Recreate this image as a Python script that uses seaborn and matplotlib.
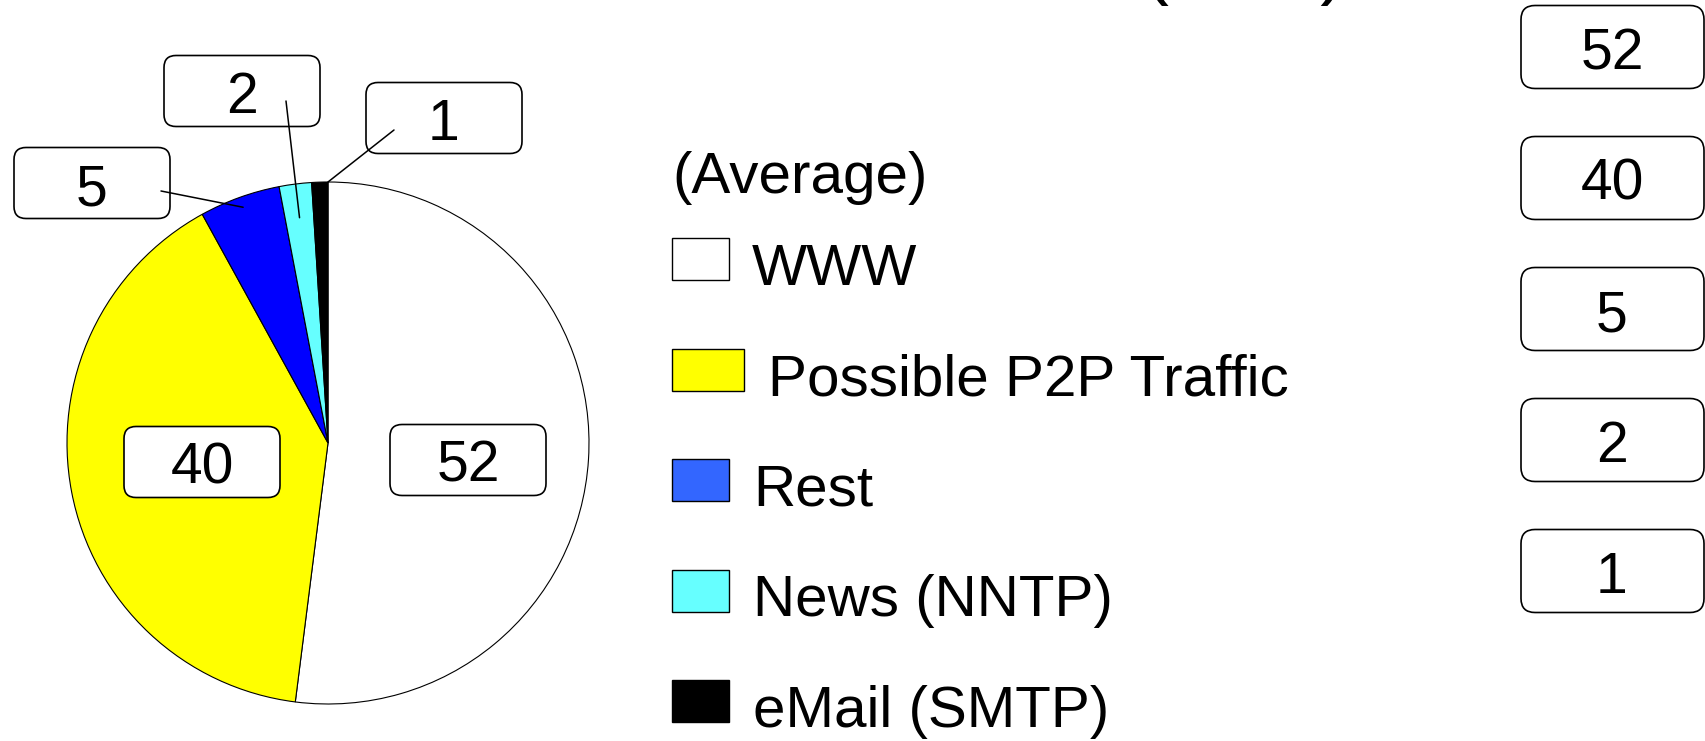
import matplotlib
matplotlib.use("Agg")
import matplotlib.pyplot as plt
from matplotlib.patches import FancyBboxPatch, Rectangle
import numpy as np
import seaborn as sns

# ---- data ----
categories = ["WWW", "Possible P2P Traffic", "Rest", "News (NNTP)", "eMail (SMTP)"]
shares = [52, 40, 5, 2, 1]
pie_colors = ["#FFFFFF", "#FFFF00", "#0000FF", "#66FFFF", "#000000"]
legend_colors = ["#FFFFFF", "#FFFF00", "#3366FF", "#66FFFF", "#000000"]
legend_title = "(Average)"
title_text = "(in %)"

sns.set_style("white")
plt.rcParams["font.family"] = ["Liberation Sans", "DejaVu Sans"]
plt.rcParams["text.color"] = "black"

W, H = 1706, 741
fig = plt.figure(figsize=(W / 100, H / 100), dpi=100)
# one axes over the whole figure, units are pixels, y pointing up
ax = fig.add_axes([0, 0, 1, 1])


def up(y):
    # convert a "from the top" pixel position to axes units
    return H - y


# ---- pie ----
cx, cy, R = 328, 443, 261
wedges, _ = ax.pie(shares, colors=pie_colors, startangle=90, counterclock=False,
                   radius=R, center=(cx, up(cy)),
                   wedgeprops=dict(edgecolor="black", linewidth=0.8))
ax.set_xlim(0, W)
ax.set_ylim(0, H)
ax.set_aspect("auto")
ax.axis("off")

# value boxes on the pie (layout only)
box_w, box_h = 156, 71
label_xy = [(468, 460), (202, 462), (92, 183), (242, 91), (444, 118)]
leader_from = [None, None, (161, 191), (286, 101), (394, 130)]
leader_r = [None, None, 0.96, 0.87, 1.0]
leader_t = [None, None, 0.5, 0.5, 0.0]   # where along the wedge the line ends

for w, val, (lx, ly), start, r, t in zip(wedges, shares, label_xy, leader_from,
                                         leader_r, leader_t):
    ax.add_patch(FancyBboxPatch((lx - box_w / 2, up(ly) - box_h / 2), box_w, box_h,
                                boxstyle="round,pad=0,rounding_size=12",
                                fc="white", ec="black", lw=1.2, zorder=3))
    ax.text(lx, up(ly) - 22, str(val), ha="center", va="baseline",
            fontsize=41, zorder=4)
    if start is not None:
        ang = np.deg2rad(w.theta1 + t * (w.theta2 - w.theta1))
        ex = cx + r * R * np.cos(ang)
        ey = up(cy) + r * R * np.sin(ang)
        ax.plot([start[0], ex], [up(start[1]), ey], color="black", lw=1.1, zorder=5)

# ---- legend ----
ax.text(672, up(193), legend_title, fontsize=42, va="baseline", ha="left")
swatch_w = [57, 72, 57, 57, 57]
text_x = [752, 768, 753, 753, 753]
for i, (name, col) in enumerate(zip(categories, legend_colors)):
    base = 285 + 110.5 * i
    ax.add_patch(Rectangle((672, up(base - 5)), swatch_w[i], 42,
                           fc=col, ec="black", lw=1.0))
    ax.text(text_x[i], up(base), name, fontsize=42, va="baseline", ha="left")

# ---- value column on the right ----
for i, val in enumerate(shares):
    yc = 47 + 131 * i
    ax.add_patch(FancyBboxPatch((1521, up(yc) - 83 / 2), 183, 83,
                                boxstyle="round,pad=0,rounding_size=14",
                                fc="white", ec="black", lw=1.2))
    ax.text(1612, up(yc) - 22, str(val), ha="center", va="baseline", fontsize=41)

# title sits mostly above the visible area, as in the source
ax.text(1245, up(-10), title_text, fontsize=56, ha="center", va="baseline",
        clip_on=False)

fig.savefig("out.png", dpi=100, facecolor="white")
